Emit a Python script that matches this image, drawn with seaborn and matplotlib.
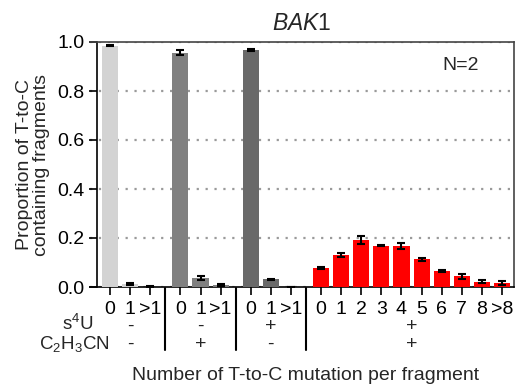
import matplotlib
matplotlib.use("Agg")
import matplotlib.pyplot as plt
import numpy as np
import pandas as pd
import seaborn as sns

# Mean proportion of fragments per T-to-C mutation count, with error (N=2)
grp_ctrl_labels = ["0", "1", ">1"]
grp_ctrl_mean = [0.985, 0.013, 0.002]
grp_ctrl_err = [0.003, 0.003, 0.001]

grp_acn_labels = ["0", "1", ">1"]
grp_acn_mean = [0.957, 0.036, 0.008]
grp_acn_err = [0.010, 0.007, 0.005]

grp_s4u_labels = ["0", "1", ">1"]
grp_s4u_mean = [0.967, 0.032, 0.001]
grp_s4u_err = [0.003, 0.002, 0.001]

grp_both_labels = ["0", "1", "2", "3", "4", "5", "6", "7", "8", ">8"]
grp_both_mean = [0.076, 0.131, 0.192, 0.169, 0.168, 0.113, 0.065, 0.043, 0.021, 0.017]
grp_both_err = [0.004, 0.008, 0.016, 0.003, 0.012, 0.007, 0.004, 0.010, 0.006, 0.008]

s4u_signs = ["-", "-", "+", "+"]
acn_signs = ["-", "+", "-", "+"]

group_labels = [grp_ctrl_labels, grp_acn_labels, grp_s4u_labels, grp_both_labels]
group_means = [grp_ctrl_mean, grp_acn_mean, grp_s4u_mean, grp_both_mean]
group_errs = [grp_ctrl_err, grp_acn_err, grp_s4u_err, grp_both_err]
group_names = ["ctrl", "acn", "s4u", "both"]
palette = {"ctrl": "#d3d3d3", "acn": "#808080", "s4u": "#696969", "both": "#ff0000"}

# Lay groups out with a wider gap between them
rows = []
centers = []
separators = []
start = 0.0
for gi, (name, labs, means, errs) in enumerate(zip(group_names, group_labels, group_means, group_errs)):
    pos = [start + i for i in range(len(labs))]
    centers.append((pos[0] + pos[-1]) / 2)
    for p, l, m, e in zip(pos, labs, means, errs):
        rows.append({"pos": p, "label": l, "value": m, "err": e, "group": name})
    start = pos[-1] + 1.5
    if gi < len(group_names) - 1:
        separators.append(pos[-1] + 0.75)
df = pd.DataFrame(rows)

sns.set_theme(style="ticks")
plt.rcParams["font.family"] = ["Liberation Sans", "DejaVu Sans"]
plt.rcParams["mathtext.fontset"] = "custom"
plt.rcParams["mathtext.rm"] = "Liberation Sans"
plt.rcParams["mathtext.it"] = "Liberation Sans:italic"

fig = plt.figure(figsize=(5.16, 3.85), dpi=100)
ax = fig.add_axes([90 / 516, 98 / 385, 424 / 516, 245 / 385])

sns.barplot(data=df, x="pos", y="value", hue="group", palette=palette,
            native_scale=True, dodge=False, width=0.8, errorbar=None,
            saturation=1, legend=False, ax=ax, zorder=3, linewidth=0)
ax.errorbar(df["pos"], df["value"], yerr=df["err"], fmt="none", ecolor="black",
            elinewidth=1.5, capsize=3, capthick=1.5, zorder=4)

ax.set_xlim(-1.0, 20.1)
ax.set_ylim(0, 1.0)
ax.set_yticks([0, 0.2, 0.4, 0.6, 0.8, 1.0])
ax.set_yticklabels(["0.0", "0.2", "0.4", "0.6", "0.8", "1.0"])
ax.set_xticks(df["pos"])
ax.set_xticklabels(df["label"])
ax.tick_params(axis="both", labelsize=14, length=6, width=1.2, color="black",
               labelcolor="black", direction="out")
ax.tick_params(axis="x", pad=4)
ax.tick_params(axis="y", pad=3)

ax.yaxis.grid(True, linestyle=(0, (1, 3)), color="#9a9a9a", linewidth=1.6, zorder=0)
ax.xaxis.grid(False)
for s in ax.spines.values():
    s.set_color("black")
    s.set_linewidth(1.2)
ax.spines["left"].set_position(("data", -0.65))
ax.spines["top"].set_color("#444444")
ax.spines["right"].set_color("#444444")

ax.set_xlabel("")
ax.set_ylabel("Proportion of T-to-C\ncontaining fragments", fontsize=14, labelpad=5,
              linespacing=1.0)
ax.set_title("$\\it{BAK1}$", fontsize=16.5, pad=9)

ax.text(0.873, 0.905, "N=2", transform=ax.transAxes, fontsize=14, ha="center", va="center")

# Treatment annotation rows beneath the tick labels
row1_y = -(331 - 287) / 245
row2_y = -(349 - 287) / 245
trans = ax.get_xaxis_transform()
for x in separators:
    ax.plot([x, x], [-0.005, -0.257], transform=trans, color="black", lw=1.5, clip_on=False)
for c, s1, s2 in zip(centers, s4u_signs, acn_signs):
    ax.text(c, row1_y, s1, transform=trans, ha="center", va="baseline", fontsize=14)
    ax.text(c, row2_y, s2, transform=trans, ha="center", va="baseline", fontsize=14)
fig.text(93 / 516, 1 - 330 / 385, "s$^4$U", ha="right", va="baseline", fontsize=13.5)
fig.text(110 / 516, 1 - 349 / 385, "C$_2$H$_3$CN", ha="right", va="baseline", fontsize=13.5)
fig.text(306 / 516, 1 - 375 / 385, "Number of T-to-C mutation per fragment",
         ha="center", va="center", fontsize=14)

fig.savefig("out.png", dpi=100)
